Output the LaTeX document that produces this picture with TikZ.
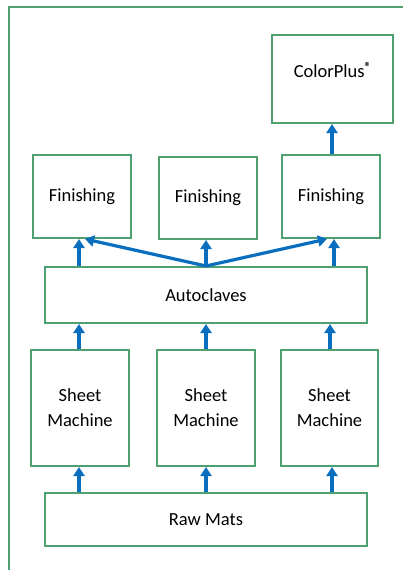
\documentclass[tikz,border=0pt]{standalone}
\usepackage{fontspec}
\setmainfont{Carlito}
\usetikzlibrary{arrows.meta}
\definecolor{boxgreen}{RGB}{78,160,112}
\definecolor{arrowblue}{RGB}{10,110,190}
\begin{document}
\begin{tikzpicture}[x=1pt,y=-1pt,
  box/.style={draw=boxgreen,line width=2pt,fill=white,inner sep=0pt,align=center,font=\fontsize{18.5}{25}\selectfont},
  flow/.style={draw=arrowblue,line width=3.2pt,-{Triangle[width=11pt,length=9pt]}}]
\useasboundingbox (0,0) rectangle (403,570);
\fill[white] (0,0) rectangle (403,570);
\draw[boxgreen,line width=2pt] (9,572) -- (9,7) -- (405,7);
% nodes
\node[box,minimum width=121pt,minimum height=88pt] (cp) at (332.5,79) {\raisebox{18pt}{ColorPlus\raisebox{6pt}{\fontsize{13}{13}\selectfont\bfseries ®}}};
\node[box,minimum width=98pt,minimum height=83pt] (f1) at (82,196.5) {Finishing};
\node[box,minimum width=98pt,minimum height=82pt] (f2) at (208,198) {Finishing};
\node[box,minimum width=98pt,minimum height=83pt] (f3) at (331,196.5) {Finishing};
\node[box,minimum width=322pt,minimum height=56pt] (ac) at (206,295) {Autoclaves};
\node[box,minimum width=98pt,minimum height=116pt] (s1) at (80,408) {Sheet\\Machine};
\node[box,minimum width=98pt,minimum height=116pt] (s2) at (206,408) {Sheet\\Machine};
\node[box,minimum width=97pt,minimum height=116pt] (s3) at (329.5,408) {Sheet\\Machine};
\node[box,minimum width=322pt,minimum height=53pt] (rm) at (206,519.5) {Raw Mats};
% arrows
\draw[flow] (rm.north -| 79,0) -- (s1.south -| 79,0);
\draw[flow] (rm.north -| 206,0) -- (s2.south -| 206,0);
\draw[flow] (rm.north -| 332,0) -- (s3.south -| 332,0);
\draw[flow] (s1.north -| 79,0) -- (ac.south -| 79,0);
\draw[flow] (s2.north -| 206,0) -- (ac.south -| 206,0);
\draw[flow] (s3.north -| 330,0) -- (ac.south -| 330,0);
\draw[flow] (ac.north -| 79,0) -- (f1.south -| 79,0);
\draw[flow] (ac.north -| 206,0) -- (f2.south -| 206,0);
\draw[flow] (ac.north -| 334,0) -- (f3.south -| 334,0);
\coordinate (hub) at (ac.north);
\draw[flow] (hub) -- (f1.south -| 85,0);
\draw[flow] (hub) -- (f3.south -| 327,0);
\draw[flow] (f3.north -| 332,0) -- (cp.south -| 332,0);
\end{tikzpicture}
\end{document}
